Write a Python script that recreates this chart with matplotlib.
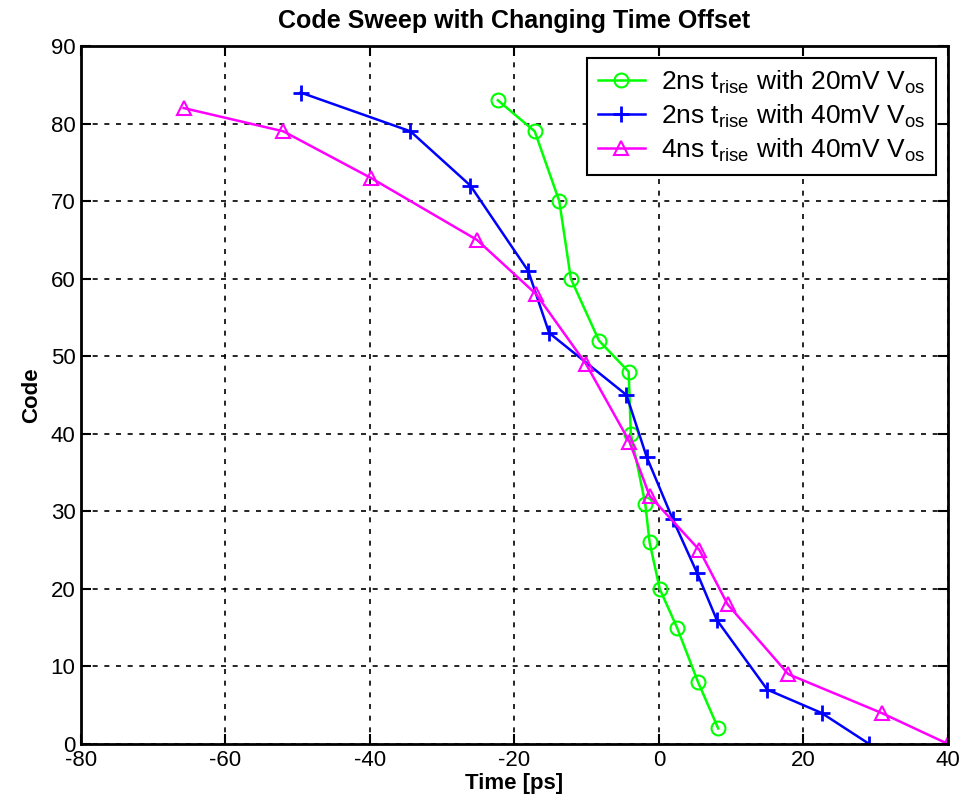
import matplotlib
matplotlib.use('Agg')
import matplotlib.pyplot as plt

# data
time_2ns_20mv = [-22.3, -17.2, -13.8, -12.2, -8.3, -4.2, -3.9, -1.9, -1.3, 0.1, 2.5, 5.4, 8.2]
code_2ns_20mv = [83, 79, 70, 60, 52, 48, 40, 31, 26, 20, 15, 8, 2]

time_2ns_40mv = [-49.6, -34.4, -26.1, -18.1, -15.2, -4.5, -1.7, 1.9, 5.3, 8.0, 15.0, 22.5, 29.1]
code_2ns_40mv = [84, 79, 72, 61, 53, 45, 37, 29, 22, 16, 7, 4, 0]

time_4ns_40mv = [-65.8, -52.0, -39.9, -25.2, -17.0, -10.1, -4.1, -1.3, 5.6, 9.5, 17.9, 30.8, 40.0]
code_4ns_40mv = [82, 79, 73, 65, 58, 49, 39, 32, 25, 18, 9, 4, 0]

labels = [r'2ns t$_{\mathregular{rise}}$ with 20mV V$_{\mathregular{os}}$',
          r'2ns t$_{\mathregular{rise}}$ with 40mV V$_{\mathregular{os}}$',
          r'4ns t$_{\mathregular{rise}}$ with 40mV V$_{\mathregular{os}}$']

plt.rcParams['font.family'] = ['Liberation Sans', 'DejaVu Sans']
plt.rcParams['axes.unicode_minus'] = False

fig = plt.figure(figsize=(9.63, 8.07), dpi=100)
ax = fig.add_axes([0.0841, 0.0781, 0.9003, 0.8649])

ax.plot(time_2ns_20mv, code_2ns_20mv, color='#00ff00', marker='o', markersize=10,
        markerfacecolor='none', markeredgewidth=1.5, linewidth=1.8, label=labels[0])
ax.plot(time_2ns_40mv, code_2ns_40mv, color='#0000ff', marker='+', markersize=12,
        markeredgewidth=2, linewidth=1.8, label=labels[1])
ax.plot(time_4ns_40mv, code_4ns_40mv, color='#ff00ff', marker='^', markersize=10,
        markerfacecolor='none', markeredgewidth=1.5, linewidth=1.8, label=labels[2])

ax.set_xlim(-80, 40)
ax.set_ylim(0, 90)
ax.set_xticks(range(-80, 41, 20))
ax.set_yticks(range(0, 91, 10))
ax.grid(True, color='black', linestyle=(0, (3, 4)), linewidth=1.2)
ax.tick_params(direction='in', top=True, right=True, length=7, width=1.5,
               labelsize=16, pad=4)
for s in ax.spines.values():
    s.set_linewidth(2)

ax.set_xlabel('Time [ps]', fontsize=16, fontweight='bold', labelpad=2)
ax.set_ylabel('Code', fontsize=16, fontweight='bold', labelpad=6)
ax.set_title('Code Sweep with Changing Time Offset', fontsize=18,
             fontweight='bold', pad=13)

leg = ax.legend(loc='upper right', fontsize=19, fancybox=False, framealpha=1,
                edgecolor='black', borderaxespad=0.45, handlelength=1.8,
                handletextpad=0.6, labelspacing=0.25, borderpad=0.4)
leg.get_frame().set_linewidth(1.5)

plt.savefig('out.png', dpi=100)
